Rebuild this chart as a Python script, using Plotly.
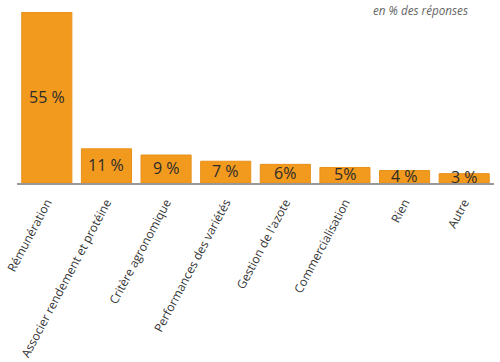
import plotly.graph_objects as go

categories = ["Rémunération", "Associer rendement et protéine", "Critère agronomique",
              "Performances des variétés", "Gestion de l'azote", "Commercialisation",
              "Rien", "Autre"]
values = [55, 11, 9, 7, 6, 5, 4, 3]
value_labels = ["55 %", "11 %", "9 %", "7 %", "6%", "5%", "4 %", "3 %"]

fig = go.Figure(go.Bar(
    x=categories, y=values,
    marker=dict(color="#F29A1E", line=dict(color="#E8901A", width=1)),
    width=0.84,
    hoverinfo="skip",
))

for c, v, t in zip(categories, values, value_labels):
    fig.add_annotation(x=c, y=v / 2, text=t, showarrow=False,
                       font=dict(size=16, color="#2b2b2b", family="Open Sans"),
                       xref="x", yref="y", yshift=1)

fig.add_annotation(xref="x domain", yref="paper", x=0.846, y=1.0,
                   xanchor="center", yanchor="middle", yshift=2,
                   text="<i>en % des réponses</i>", showarrow=False,
                   font=dict(size=11.7, color="#666666", family="Open Sans"))

fig.update_layout(
    width=500, height=362,
    margin=dict(l=17, r=6, t=12, b=179, autoexpand=False),
    paper_bgcolor="white", plot_bgcolor="white",
    showlegend=False,
    font=dict(family="Open Sans", color="#333333"),
)
fig.update_xaxes(
    tickangle=-62, tickfont=dict(size=12, color="#333333", family="Open Sans"),
    showline=True, linecolor="#999999", linewidth=1.5, ticks="", range=[-0.5, 7.5],
    showgrid=False, automargin=False, ticklabelstandoff=6,
)
fig.update_yaxes(range=[0, 55], visible=False, showgrid=False, automargin=False)

fig.write_html("out.html", config={"displayModeBar": False},
               post_script="document.body.style.margin='0';document.body.style.overflow='hidden';")
